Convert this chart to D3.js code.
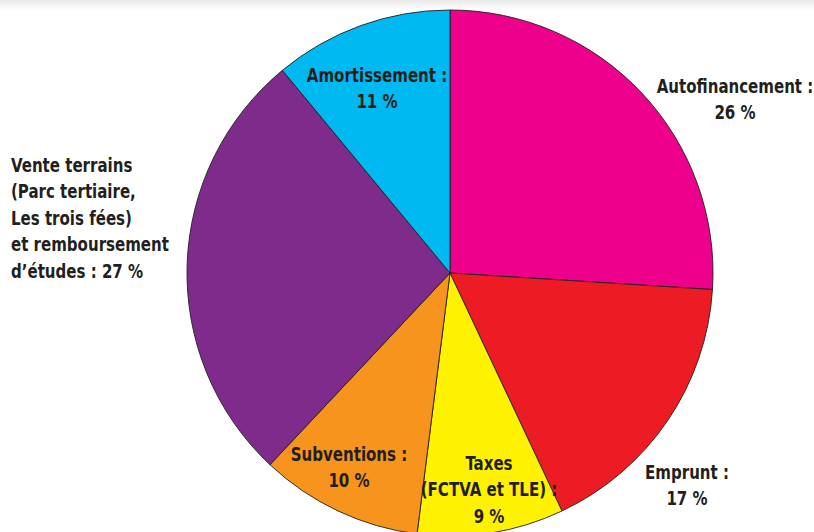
<!DOCTYPE html>
<html>
<head>
<meta charset="utf-8">
<script src="https://cdn.jsdelivr.net/npm/d3@7"></script>
<style>
  body { margin: 0; background: #fff; }
  svg text { font-family: "DejaVu Sans Condensed", "DejaVu Sans", sans-serif; font-weight: bold; font-size: 19px; fill: #231f20; }
</style>
</head>
<body>
<script>
var width = 814, height = 532;
var cx = 450, cy = 273, radius = 263;

// clockwise from 12 o'clock
var categories = ["Autofinancement", "Emprunt", "Taxes", "Subventions", "Vente terrains", "Amortissement"];
var values = [26, 17, 9, 10, 27, 11];
var colors = ["#ec008c", "#ed1c24", "#fff200", "#f7941d", "#7f2b8c", "#00b9f1"];
var labelLines = [
    ["Autofinancement :", "26 %"],
    ["Emprunt :", "17 %"],
    ["Taxes", "(FCTVA et TLE) :", "9 %"],
    ["Subventions :", "10 %"],
    ["Vente terrains", "(Parc tertiaire,", "Les trois fées)", "et remboursement", "d\u2019études : 27 %"],
    ["Amortissement :", "11 %"]
];
// label anchor [x, first baseline, text-anchor]
var labelPos = [
    [735, 93, "middle"],
    [687, 479, "middle"],
    [489, 470, "middle"],
    [349, 461, "middle"],
    [11, 172, "start"],
    [377, 82, "middle"]
];
var lineH = 26.5;
var squeeze = 0.88; // condensed look

var data = categories.map(function(c, i) {
    return {name: c, value: values[i], color: colors[i], lines: labelLines[i], pos: labelPos[i]};
});

var svg = d3.select("body").append("svg")
    .attr("width", width)
    .attr("height", height);

// faint grey band at the very top
var defs = svg.append("defs");
var grad = defs.append("linearGradient")
    .attr("id", "topband")
    .attr("x1", 0).attr("y1", 0).attr("x2", 0).attr("y2", 1);
grad.append("stop").attr("offset", "0%").attr("stop-color", "#e8e8e8");
grad.append("stop").attr("offset", "100%").attr("stop-color", "#ffffff");
svg.append("rect")
    .attr("x", 0).attr("y", 0)
    .attr("width", width).attr("height", 10)
    .attr("fill", "url(#topband)");

var pie = d3.pie()
    .value(function(d) { return d.value; })
    .sort(null);

var arc = d3.arc()
    .innerRadius(0)
    .outerRadius(radius);

var g = svg.append("g")
    .attr("transform", "translate(" + cx + "," + cy + ")");

g.selectAll("path")
    .data(pie(data))
    .enter()
    .append("path")
    .attr("d", arc)
    .attr("fill", function(d) { return d.data.color; })
    .attr("stroke", "#231f20")
    .attr("stroke-width", 0.9);

var labels = svg.selectAll("text.lbl")
    .data(data)
    .enter()
    .append("text")
    .attr("class", "lbl")
    .attr("transform", function(d) {
        return "translate(" + d.pos[0] + "," + d.pos[1] + ") scale(" + squeeze + ",1)";
    })
    .attr("text-anchor", function(d) { return d.pos[2]; });

labels.selectAll("tspan")
    .data(function(d) { return d.lines; })
    .enter()
    .append("tspan")
    .attr("x", 0)
    .attr("dy", function(d, i) { return i === 0 ? 0 : lineH; })
    .text(function(d) { return d; });
</script>
</body>
</html>
